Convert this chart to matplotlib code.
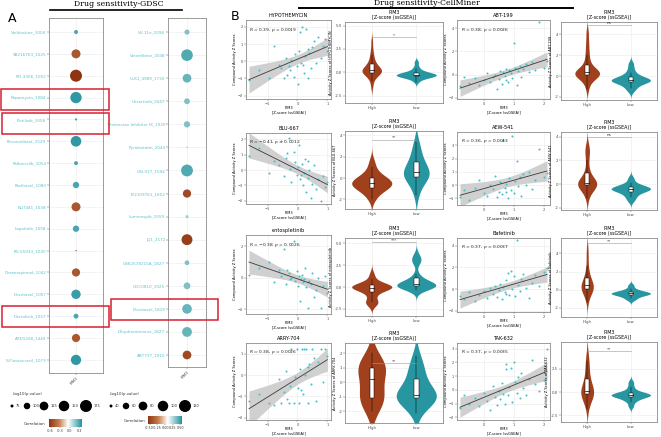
import numpy as np
import matplotlib
matplotlib.use("Agg")
import matplotlib.pyplot as plt
from matplotlib.patches import Rectangle
from matplotlib.colors import LinearSegmentedColormap, Normalize
from matplotlib.cm import ScalarMappable

# ---------------- data: panel A (GDSC dot plots) ----------------
gdsc_left_drugs = ["Vinblastine_1004", "SB216763_1025", "RO-3306_1052", "Rapamycin_1084",
                   "Pictilisib_1058", "Pevonedistat_1529", "Palbociclib_1054", "Paclitaxel_1080",
                   "NU7441_1038", "Lapatinib_1558", "KU-55933_1030", "Doramapimod_1042",
                   "Docetaxel_1007", "Dactolisib_1057", "AZD1208_1449", "5-Fluorouracil_1073"]
gdsc_left_cor = [0.30, -0.50, -0.65, 0.35, 0.30, 0.35, 0.30, 0.30,
                 -0.50, 0.30, -0.45, -0.50, 0.33, 0.30, -0.50, 0.35]
gdsc_left_logp = [80, 128, 175, 163, 72, 152, 80, 98, 128, 98, 68, 118, 133, 86, 118, 146]

gdsc_right_drugs = ["VX-11e_2096", "Vinorelbine_2048", "ULK1_4989_1730", "Ulixertinib_2047",
                    "Telomerase Inhibitor IX_1930", "Pyridostatin_2044", "OSI-027_1594",
                    "LY2109761_1852", "Luminespib_1559", "JQ1_2172", "GSK2578215A_1827",
                    "GDC0810_1925", "Docetaxel_1819", "Dihydrorotenone_1827", "ABT737_1910"]
gdsc_right_cor = [0.35, 0.45, 0.40, 0.35, 0.35, 0.30, 0.45, -0.45,
                  0.30, -0.50, 0.35, 0.35, 0.40, 0.40, -0.45]
gdsc_right_logp = [50, 115, 80, 55, 58, 36, 118, 75, 40, 105, 48, 62, 90, 92, 80]

left_size_breaks = [75, 100, 125, 150, 175]
right_size_breaks = [40, 60, 80, 100, 120]

# ---------------- data: panel B (CellMiner) ----------------
pim3_a = [-1.62, -1.30, -0.95, -0.80, -0.62, -0.55, -0.45, -0.38, -0.30, -0.25, -0.20, -0.12,
          -0.08, -0.02, 0.02, 0.06, 0.10, 0.14, 0.18, 0.22, 0.26, 0.30, 0.34, 0.40,
          0.45, 0.50, 0.55, 0.62, 0.70, 0.78, 0.85, 0.92, 1.00, 0.12, 0.35, -0.35]
pim3_b = [-0.80, -0.65, -0.50, -0.30, -0.15, 0.00, 0.10, 0.20, 0.30, 0.38, 0.45, 0.50,
          0.55, 0.60, 0.65, 0.70, 0.75, 0.80, 0.85, 0.90, 0.95, 1.00, 1.05, 1.10,
          1.15, 1.20, 1.25, 1.30, 1.40, 1.50, 1.60, 1.70, 1.85, 2.00, 2.10, 0.72]

hypo_act = [-1.1, -0.5, -1.0, 0.9, -0.2, -0.4, -1.0, 0.2, -0.3, -0.5, 0.1, -0.9,
            0.4, -0.3, -1.3, 0.6, 1.7, 2.0, -0.2, -0.7, 0.3, 1.9, -1.0, 0.5,
            -0.4, 0.8, 1.2, -0.1, 1.4, 0.2, 0.9, 1.3, 0.6, -0.1, 0.7, -0.8]
blu_act = [0.9, 1.4, -0.2, 0.6, 0.3, 1.9, -0.4, 0.8, 2.1, 0.1, -0.8, 1.2,
           0.5, -0.3, 0.2, 1.6, -0.6, 0.4, -1.0, -0.2, 0.7, -1.4, -0.5, 0.0,
           -1.8, -0.9, 0.3, -1.2, -0.6, -2.0, -0.4, -1.1, -0.8, -0.3, 0.6, 1.1]
ento_act = [0.2, 0.6, 1.0, -0.3, 0.5, 0.1, 1.8, -0.4, 0.3, -0.1, 0.0, 2.3,
            -0.2, 0.4, -0.5, 0.1, -1.5, 0.2, -0.3, -0.1, 0.6, -0.6, -1.9, -0.2,
            -0.4, 0.3, -1.2, -0.8, 0.0, -1.9, -0.5, 0.1, -1.0, -0.1, -0.3, 0.5]
arry_act = [-1.2, -0.9, -1.3, -1.4, -0.2, -1.3, -0.8, 0.2, -1.3, -0.5, 1.2, -1.3,
            -0.1, 1.2, -0.6, -1.3, 0.3, 1.2, -0.9, 1.2, 0.0, 1.2, -1.3, 0.5,
            -0.4, 1.2, 0.8, -1.2, 0.6, 1.2, -0.3, 1.2, 0.9, -0.7, 0.4, -1.1]
abt_act = [-1.0, -0.2, -0.7, -0.3, -0.9, -0.5, 0.1, -0.6, -0.2, 0.0, -1.2, -0.4,
           0.3, -0.8, 0.2, -0.1, 0.5, -0.6, 0.4, 0.1, -0.3, 2.7, 0.6, -0.9,
           0.3, 0.7, -0.2, 0.5, 0.9, 0.2, 1.1, 0.4, 4.5, 0.6, 1.2, -0.5]
aew_act = [-0.9, -0.4, -1.1, -0.2, 0.4, -0.6, -0.8, 0.0, -0.3, 0.7, -0.9, -0.5,
           0.2, -0.7, 3.4, -0.2, 0.1, -1.0, 0.5, -0.4, 3.7, -0.6, 0.3, 1.8,
           -0.1, 0.6, -0.8, 0.8, 0.0, 1.0, -0.3, 0.4, 2.7, 0.6, 0.9, -0.5]
baf_act = [-0.6, -0.9, -0.3, -1.1, -0.5, -0.2, -0.8, 0.1, -0.4, 0.3, -0.7, -0.1,
           0.5, -0.9, 0.2, -0.3, 0.8, 1.5, -0.5, 1.7, 0.0, 1.2, -0.6, 4.5,
           0.4, -0.2, 0.9, 1.4, 0.1, -0.8, 0.6, 1.3, 0.3, 1.6, 1.9, -0.4]
tak_act = [-1.3, -0.4, -1.0, -0.6, -1.2, -0.2, -0.8, -1.5, 0.3, -0.5, -1.1, -0.1,
           -0.7, 0.5, -0.3, -1.0, 1.9, -0.4, 0.2, 1.6, -0.9, 2.0, 0.6, -0.2,
           0.9, -0.6, 1.2, 0.1, -0.4, 0.8, 2.2, 0.4, -0.1, 0.7, 3.0, 1.5]

# violin groups: PIM3 High / Low
hypo_high = [-1.5, -0.9, -0.5, -0.3, -0.2, -0.1, 0.0, 0.0, 0.1, 0.1, 0.2, 0.2, 0.3, 0.3, 0.4, 0.5,
             0.6, 0.8, 1.0, 1.2, 1.5, 1.9, 2.4, 3.3]
hypo_low = [-1.0, -0.7, -0.6, -0.5, -0.5, -0.4, -0.4, -0.3, -0.3, -0.3, -0.2, -0.2, -0.1, -0.1,
            0.0, 0.1, 0.3, 0.6, 1.1]
blu_high = [-2.0, -1.6, -1.3, -1.1, -1.0, -0.9, -0.8, -0.7, -0.6, -0.5, -0.5, -0.4, -0.3, -0.2,
            -0.1, 0.0, 0.1, 0.3, 0.6, 1.0, 1.6]
blu_low = [-1.6, -1.0, -0.5, -0.2, 0.0, 0.1, 0.2, 0.3, 0.4, 0.5, 0.6, 0.8, 1.0, 1.2, 1.4, 1.7,
           2.0, 2.4, 2.9, 3.4]
ento_high = [-2.0, -1.8, -1.7, -1.3, -0.8, -0.5, -0.3, -0.2, -0.1, -0.1, 0.0, 0.0, 0.1, 0.1,
             0.2, 0.2, 0.3, 0.5, 0.9, 1.5]
ento_low = [-0.3, -0.1, 0.0, 0.0, 0.1, 0.1, 0.1, 0.2, 0.2, 0.3, 0.3, 0.4, 0.5, 0.6, 0.8, 1.0,
            1.5, 2.8, 3.0, 3.3, 3.7]
arry_high = [-2.0, -1.6, -1.4, -1.3, -1.2, -1.1, -1.0, -0.9, -0.6, -0.3, 0.0, 0.4, 0.7, 0.8,
             0.9, 1.0, 1.0, 1.1, 1.2, 1.3, 1.6, 2.0]
arry_low = [-2.1, -1.5, -1.3, -1.2, -1.1, -1.1, -1.0, -1.0, -0.9, -0.8, -0.6, -0.4, -0.1, 0.3,
            0.6, 0.9, 1.3, 1.8]
abt_high = [-1.2, -0.6, -0.3, -0.1, 0.0, 0.1, 0.1, 0.2, 0.2, 0.3, 0.3, 0.4, 0.4, 0.5, 0.6,
            0.8, 1.1, 1.5, 2.0, 2.6, 3.3, 4.2]
abt_low = [-1.4, -1.1, -0.9, -0.7, -0.6, -0.5, -0.5, -0.4, -0.4, -0.3, -0.3, -0.2, -0.1, 0.1,
           0.3, 0.7, 1.2]
aew_high = [-1.2, -0.7, -0.4, -0.3, -0.2, -0.1, -0.1, 0.0, 0.0, 0.1, 0.1, 0.2, 0.2, 0.3, 0.5,
            0.9, 1.3, 2.0, 2.6, 2.9, 3.2]
aew_low = [-1.4, -1.1, -0.9, -0.7, -0.6, -0.5, -0.5, -0.4, -0.4, -0.3, -0.3, -0.2, -0.1, 0.1, 0.5]
baf_high = [-1.3, -0.6, -0.3, -0.1, 0.0, 0.1, 0.2, 0.3, 0.4, 0.5, 0.6, 0.7, 0.9, 1.2, 1.5,
            1.9, 2.6, 3.6, 4.5]
baf_low = [-1.1, -0.9, -0.7, -0.6, -0.5, -0.5, -0.4, -0.4, -0.3, -0.3, -0.2, -0.1, 0.1, 0.5]
tak_high = [-1.8, -1.0, -0.6, -0.4, -0.3, -0.2, -0.1, 0.0, 0.0, 0.1, 0.2, 0.4, 0.6, 0.9, 1.3,
            1.8, 2.3, 2.8, 3.4, 4.0]
tak_low = [-1.5, -1.0, -0.8, -0.6, -0.5, -0.4, -0.4, -0.3, -0.3, -0.2, -0.2, -0.1, 0.0, 0.2,
           0.6, 1.1]

# ---------------- styling ----------------
W, H = 661, 437
TEAL = "#2796A1"
BROWN = "#A0401C"
PT = "#45C1CA"
LABEL_TEAL = "#5CC2CA"
GRID = "#EBEBEB"
EDGE = "#8C8C8C"
RED = "#D42030"

cmap = LinearSegmentedColormap.from_list(
    "corr", [(0, "#8F3413"), (0.3, "#C57D4C"), (0.58, "#FFFFFF"), (1.0, "#22919C")])
norm_left = Normalize(-0.65, 0.38)
norm_right = Normalize(-0.55, 0.55)

fig = plt.figure(figsize=(W / 100, H / 100), dpi=100)
fig.patch.set_facecolor("white")


def px_axes(x0, y0, x1, y1):
    # axes placed with pixel coordinates (top-left origin)
    return fig.add_axes([x0 / W, 1 - y1 / H, (x1 - x0) / W, (y1 - y0) / H])


def style(ax, fs=2.6):
    for sp in ax.spines.values():
        sp.set_color(EDGE)
        sp.set_linewidth(0.6)
    ax.tick_params(labelsize=fs, length=1.2, width=0.3, pad=0.8, colors="#4D4D4D")
    ax.grid(color=GRID, lw=0.4)
    ax.set_axisbelow(True)


def size_left(v):
    d = np.sqrt(np.clip(9 + 1.35 * (np.asarray(v, float) - 75), 2.0, None))
    return (d * 0.72) ** 2


def size_right(v):
    d = np.sqrt(np.clip(9 + 1.6875 * (np.asarray(v, float) - 40), 2.0, None))
    return (d * 0.72) ** 2


def dot_panel(box, names, cor, logp, norm, size_fn, pad_top, pad_bot):
    ax = px_axes(*box)
    y = np.arange(len(names))
    ax.scatter(np.ones(len(names)), y, s=size_fn(logp), c=cor, cmap=cmap, norm=norm,
               linewidths=0, zorder=3)
    ax.set_yticks(y)
    ax.set_yticklabels(names)
    ax.set_ylim(len(names) - 1 + pad_bot, -pad_top)
    ax.set_xlim(0.4, 1.6)
    ax.set_xticks([1])
    ax.set_xticklabels(["PIM3"], rotation=45, ha="right", rotation_mode="anchor")
    style(ax, fs=3)
    for lab in ax.get_yticklabels():
        lab.set_color(LABEL_TEAL)
    return ax


dot_panel((49, 18, 103, 373), gdsc_left_drugs, gdsc_left_cor, gdsc_left_logp,
          norm_left, size_left, 0.64, 0.6)
dot_panel((168, 18, 206, 367), gdsc_right_drugs, gdsc_right_cor, gdsc_right_logp,
          norm_right, size_right, 0.61, 0.52)

# size legends + colorbars (overlay axis in pixel space)
lg = fig.add_axes([0, 0, 1, 1])
lg.set_xlim(0, W)
lg.set_ylim(H, 0)
lg.axis("off")
lg.text(13, 394, "-log10(p.value)", fontsize=2.8, va="center", color="#333333")
lg.text(110, 394, "-log10(p.value)", fontsize=2.8, va="center", color="#333333")
for xs, breaks, fn in [([12, 27, 44, 64, 86], left_size_breaks, size_left),
                       ([111, 126, 143, 163, 185], right_size_breaks, size_right)]:
    lg.scatter(xs, [406] * len(xs), s=fn(breaks), color="black", linewidths=0)
    for x, b, s in zip(xs, breaks, fn(breaks)):
        lg.text(x + np.sqrt(s) / 1.44 + 2, 406, str(b), fontsize=2.6, va="center", color="#333333")
lg.text(46, 424, "Correlation", fontsize=2.8, ha="right", va="center", color="#333333")
lg.text(146, 421, "Correlation", fontsize=2.8, ha="right", va="center", color="#333333")

for box, norm, ticks, labels in [((49, 419, 82, 427), norm_left, [-0.6, -0.3, 0.0, 0.3],
                                  ["-0.6", "-0.3", "0.0", "0.3"]),
                                 ((148, 416, 182, 424), norm_right, [-0.5, -0.25, 0, 0.25, 0.5],
                                  ["-0.50", "-0.25", "0.00", "0.25", "0.50"])]:
    cax = px_axes(*box)
    cb = fig.colorbar(ScalarMappable(norm=norm, cmap=cmap), cax=cax, orientation="horizontal")
    cb.set_ticks(ticks)
    cb.set_ticklabels(labels)
    cb.outline.set_visible(False)
    cax.tick_params(labelsize=2.4, length=1, width=0.3, pad=0.5, colors="#333333")

# red highlight boxes
for x0, y0, x1, y1 in [(1, 89, 109, 110), (2, 113, 109, 134), (2, 306, 109, 327), (111, 299, 218, 320)]:
    lg.add_patch(Rectangle((x0, y0), x1 - x0, y1 - y0, fill=False, ec=RED, lw=1.1, zorder=10))

# headers
lg.text(8, 18, "A", fontsize=9, ha="left", va="center")
lg.text(231, 17, "B", fontsize=9, ha="left", va="center")
lg.text(119, 4.2, "Drug sensitivity-GDSC", fontsize=5.6, family="DejaVu Serif", ha="center", va="center")
lg.plot([50, 182], [9.5, 9.5], color="black", lw=1.2)
lg.text(427, 3.2, "Drug sensitivity-CellMiner", fontsize=5.6, family="DejaVu Serif", ha="center", va="center")
lg.plot([299, 573], [7.5, 7.5], color="black", lw=1.4)


# ---------------- panel B ----------------
def scatter_panel(box, x, y, title, stat, xlim, xticks, ylim, yticks):
    ax = px_axes(*box)
    x = np.asarray(x, float)
    y = np.asarray(y, float)
    b, a = np.polyfit(x, y, 1)
    xs = np.linspace(x.min(), x.max(), 100)
    yh = a + b * xs
    n = len(x)
    resid = y - (a + b * x)
    s = np.sqrt((resid ** 2).sum() / (n - 2))
    se = s * np.sqrt(1 / n + (xs - x.mean()) ** 2 / ((x - x.mean()) ** 2).sum())
    ax.fill_between(xs, yh - 2.03 * se, yh + 2.03 * se, color="#C8C8C8", alpha=0.85, lw=0, zorder=2)
    ax.plot(xs, yh, color="#3A3A3A", lw=0.6, zorder=4)
    ax.scatter(x, y, s=2.2, color=PT, linewidths=0, zorder=3)
    ax.text(0.04, 0.93, stat, transform=ax.transAxes, fontsize=3.2, va="top", color="#222222")
    ax.set_title(title, fontsize=3.6, pad=2.5)
    ax.set_xlabel("PIM3\n[Z-score (ssGSEA)]", fontsize=2.6, labelpad=0.5, linespacing=1.0)
    ax.set_ylabel("Compound Activity Z Scores", fontsize=2.6, labelpad=1)
    ax.set_xlim(*xlim)
    ax.set_xticks(xticks)
    ax.set_ylim(*ylim)
    ax.set_yticks(yticks)
    style(ax)


def violin_panel(box, high, low, drug, ylim, yticks, yfmt, sig, sig_y):
    ax = px_axes(*box)
    groups = [np.asarray(high, float), np.asarray(low, float)]
    curves = []
    for d in groups:
        n = len(d)
        iqr = np.subtract(*np.percentile(d, [75, 25]))
        bw = 1.4 * 0.9 * min(d.std(ddof=1), iqr / 1.34) * n ** -0.2
        grid = np.linspace(d.min() - 3 * bw, d.max() + 3 * bw, 300)
        dens = np.exp(-0.5 * ((grid[:, None] - d[None, :]) / bw) ** 2).sum(1) / (n * bw * np.sqrt(2 * np.pi))
        curves.append((grid, dens))
    peak = max(c[1].max() for c in curves)
    for pos, (grid, dens), d, col in zip([1, 2], curves, groups, [BROWN, TEAL]):
        w = dens / peak * 0.45
        ax.fill_betweenx(grid, pos - w, pos + w, color=col, lw=0, zorder=2)
        q1, med, q3 = np.percentile(d, [25, 50, 75])
        iqr = q3 - q1
        lo = d[d >= q1 - 1.5 * iqr].min()
        hi = d[d <= q3 + 1.5 * iqr].max()
        ax.plot([pos, pos], [lo, q1], color="black", lw=0.35, zorder=3)
        ax.plot([pos, pos], [q3, hi], color="black", lw=0.35, zorder=3)
        ax.add_patch(Rectangle((pos - 0.05, q1), 0.1, q3 - q1, fc="white", ec="black", lw=0.35, zorder=4))
        ax.plot([pos - 0.05, pos + 0.05], [med, med], color="black", lw=0.5, zorder=5)
    ax.plot([1, 2], [sig_y, sig_y], color="#9A9A9A", lw=0.4, zorder=3)
    ax.text(1.5, sig_y, sig, fontsize=3, ha="center", va="bottom", color="#333333")
    ax.set_xlim(0.4, 2.6)
    ax.set_xticks([1, 2])
    ax.set_xticklabels(["High", "Low"])
    ax.set_ylim(*ylim)
    ax.set_yticks(yticks)
    ax.set_yticklabels([yfmt.format(t) for t in yticks])
    ax.set_ylabel(f"Activity Z Scores of {drug}", fontsize=2.6, labelpad=1)
    ax.set_title("PIM3\n[Z-score (ssGSEA)]", fontsize=3.4, pad=2, linespacing=1.1)
    style(ax, fs=2.8)


xa = (-1.72, 1.12)
xb = (-0.9, 2.2)
scatter_panel((246, 20, 331, 99), pim3_a, hypo_act, "HYPOTHEMYCIN", r"$R$ = 0.39, $p$ = 0.0019",
              xa, [-1, 0, 1], (-2.2, 2.4), [-2, -1, 0, 1, 2])
scatter_panel((246, 133, 331, 204), pim3_a, blu_act, "BLU-667", r"$R$ = $-$0.41, $p$ = 0.0012",
              xa, [-1, 0, 1], (-2.2, 2.4), [-2, -1, 0, 1, 2])
scatter_panel((246, 235, 331, 314), pim3_a, ento_act, "entospletinib", r"$R$ = $-$0.38, $p$ = 0.0026",
              xa, [-1, 0, 1], (-2.3, 2.7), [-2, 0, 2])
scatter_panel((246, 343, 331, 420), pim3_a, arry_act, "ARRY-704", r"$R$ = 0.38, $p$ = 0.0026",
              xa, [-1, 0, 1], (-2.1, 1.5), [-2, -1, 0, 1])
scatter_panel((457, 20, 550, 99), pim3_b, abt_act, "ABT-199", r"$R$ = 0.38, $p$ = 0.0026",
              xb, [0, 1, 2], (-2.1, 4.7), [-2, 0, 2, 4])
scatter_panel((457, 132, 550, 205), pim3_b, aew_act, "AEW-541", r"$R$ = 0.36, $p$ = 0.0043",
              xb, [0, 1, 2], (-1.5, 4.0), [-1, 0, 1, 2, 3])
scatter_panel((457, 238, 550, 312), pim3_b, baf_act, "Bafetinib", r"$R$ = 0.37, $p$ = 0.0037",
              xb, [0, 1, 2], (-2.1, 4.7), [-2, 0, 2, 4])
scatter_panel((457, 343, 550, 420), pim3_b, tak_act, "TAK-632", r"$R$ = 0.37, $p$ = 0.0035",
              xb, [0, 1, 2], (-2.2, 3.4), [-2, -1, 0, 1, 2, 3])

violin_panel((345, 22, 443, 103), hypo_high, hypo_low, "HYPOTHEMYCIN", (-3.3, 5.4),
             [-2.5, 0, 2.5, 5.0], "{:.1f}", "*", 3.8)
violin_panel((345, 131, 443, 209), blu_high, blu_low, "BLU-667", (-2.9, 4.4),
             [-2, 0, 2, 4], "{:.0f}", "**", 3.6)
violin_panel((345, 238, 443, 316), ento_high, ento_low, "entospletinib", (-3.3, 5.6),
             [-2.5, 0, 2.5, 5.0], "{:.1f}", "***", 5.1)
violin_panel((345, 343, 443, 423), arry_high, arry_low, "ARRY-704", (-2.8, 2.7),
             [-2, -1, 0, 1, 2], "{:.0f}", "**", 1.3)
violin_panel((561, 22, 657, 100), abt_high, abt_low, "ABT-199", (-2.3, 5.2),
             [-2, 0, 2, 4], "{:.0f}", "ns", 4.9)
violin_panel((561, 132, 657, 210), aew_high, aew_low, "AEW-541", (-2.2, 4.4),
             [-2, 0, 2, 4], "{:.0f}", "ns", 4.0)
violin_panel((561, 238, 657, 317), baf_high, baf_low, "Bafetinib", (-3.0, 5.7),
             [-2, 0, 2, 4], "{:.0f}", "**", 5.1)
violin_panel((561, 342, 657, 422), tak_high, tak_low, "TAK-632", (-3.2, 5.4),
             [-2.5, 0, 2.5], "{:.1f}", "**", 4.4)

fig.savefig("out.png", dpi=100)
